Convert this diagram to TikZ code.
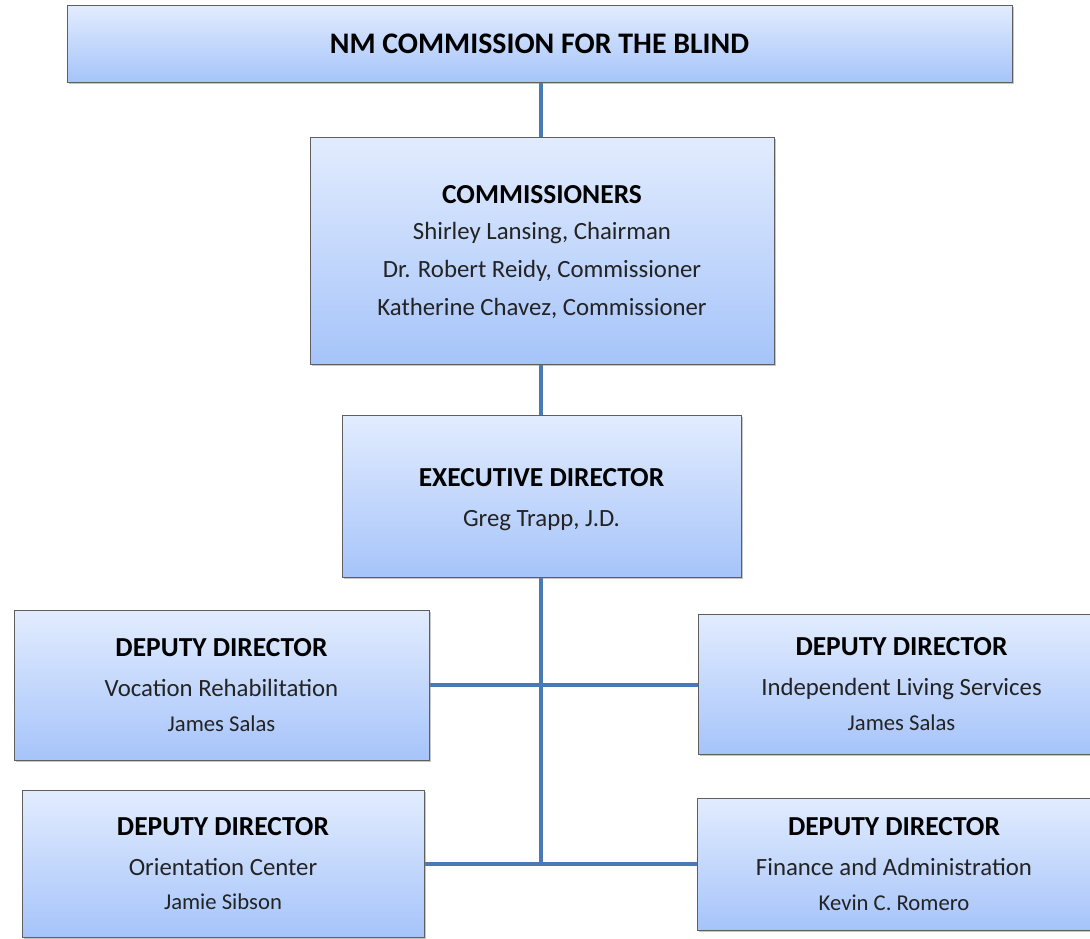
\documentclass[tikz,border=0pt]{standalone}
\usepackage{fontspec}
\setmainfont{Carlito}
\usetikzlibrary{shadows,backgrounds}

\definecolor{boxtop}{RGB}{226,236,254}
\definecolor{boxbot}{RGB}{166,196,250}
\definecolor{boxedge}{RGB}{95,95,95}
\definecolor{linkblue}{RGB}{74,122,181}
\definecolor{inktext}{RGB}{35,35,35}

% title, heading, body and name fonts
\newcommand{\tfont}{\fontsize{22.4pt}{30pt}\selectfont\bfseries\color{black}}
\newcommand{\hfont}{\fontsize{20.6pt}{30pt}\selectfont\bfseries\color{black}}
\newcommand{\bfont}{\fontsize{18.6pt}{28.5pt}\selectfont}
\newcommand{\nfont}{\fontsize{17pt}{26pt}\selectfont}

\tikzset{
  orgbox/.style={rectangle, draw=boxedge, line width=0.7pt,
    top color=boxtop, bottom color=boxbot,
    drop shadow={opacity=0.45, shadow xshift=1.2pt, shadow yshift=-1.8pt},
    align=center, inner sep=0pt, text=inktext, font=\bfont},
  boxtext/.style={align=center, inner sep=0pt, text=inktext, font=\bfont},
  link/.style={draw=linkblue, line width=3pt}
}

\begin{document}
\begin{tikzpicture}[x=0.75pt, y=-0.75pt]
  \useasboundingbox (0,0) rectangle (1090,939);

  \coordinate (trunk) at (541,0);

  % boxes
  \node[orgbox, minimum width=708.75pt, minimum height=57.75pt] (nm) at (539.5,43.5)
    {{\tfont NM COMMISSION FOR THE BLIND}};

  \node[orgbox, minimum width=348pt, minimum height=170.25pt] (comm) at (542,250.5) {};
  \node[boxtext] (commtext) at ([yshift=-1.2pt]comm.center)
    {{\hfont COMMISSIONERS}\\[-1.5pt]
     Shirley Lansing, Chairman\\
     Dr. Robert Reidy, Commissioner\\
     Katherine Chavez, Commissioner};

  \node[orgbox, minimum width=299.25pt, minimum height=121.5pt] (exec) at (541.5,496) {};
  \node[boxtext] (exectext) at ([yshift=-2.8pt]exec.center)
    {{\hfont EXECUTIVE DIRECTOR}\\[1.5pt]
     Greg Trapp, J.D.};

  \node[orgbox, minimum width=311.25pt, minimum height=112.5pt] (vr) at (221.5,685)
    {{\hfont DEPUTY DIRECTOR}\\[1.5pt]
     Vocation Rehabilitation\\[-2.5pt]
     {\nfont James Salas}};
  \node[orgbox, minimum width=305.25pt, minimum height=105pt] (ils) at (901.5,684)
    {{\hfont DEPUTY DIRECTOR}\\[1.5pt]
     Independent Living Services\\[-2.5pt]
     {\nfont James Salas}};
  \node[orgbox, minimum width=301.5pt, minimum height=110.25pt] (oc) at (223,863.5)
    {{\hfont DEPUTY DIRECTOR}\\[1.5pt]
     Orientation Center\\[-2.5pt]
     {\nfont Jamie Sibson}};
  \node[orgbox, minimum width=295.5pt, minimum height=99pt] (fa) at (894,864)
    {{\hfont DEPUTY DIRECTOR}\\[1.5pt]
     Finance and Administration\\[-2.5pt]
     {\nfont Kevin C. Romero}};

  % reporting lines, kept behind the boxes
  \begin{scope}[on background layer]
    \coordinate (junction) at (trunk |- oc.east);
    \draw[link] (nm.south -| trunk) -- (comm.north -| trunk);
    \draw[link] (comm.south -| trunk) -- (exec.north -| trunk);
    \draw[link] (exec.south -| trunk) -- (junction);
    \draw[link] (vr.east) -- (vr.east -| ils.west);
    \draw[link] (oc.east) -- (oc.east -| fa.west);
  \end{scope}
\end{tikzpicture}
\end{document}
